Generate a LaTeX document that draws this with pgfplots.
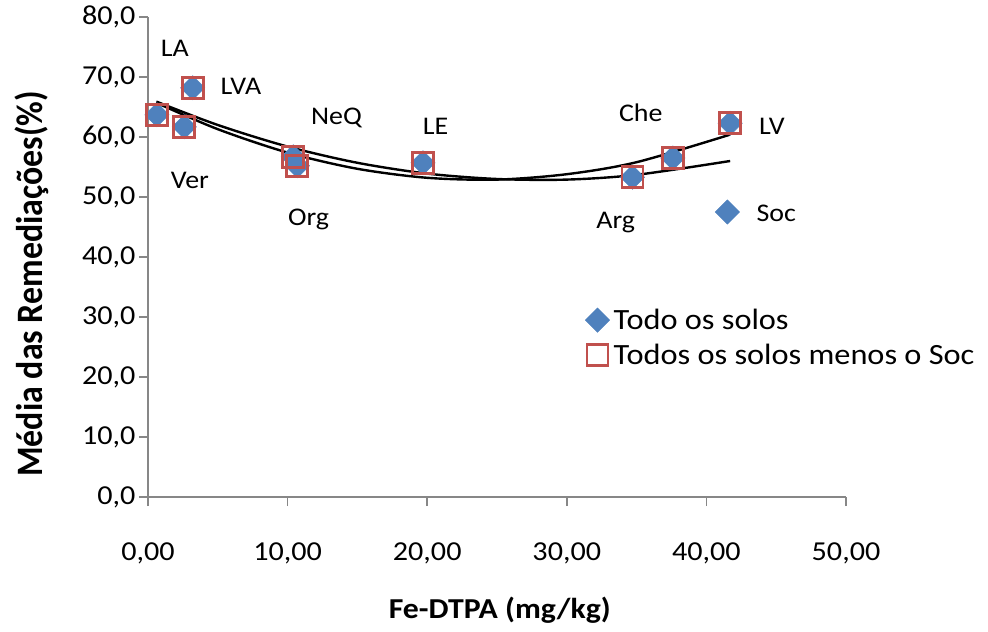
\documentclass[border=0pt]{standalone}
\usepackage{pgfplots}
\pgfplotsset{compat=1.18}
\usepackage{fontspec}
\setmainfont[FakeStretch=1.1]{Carlito}
\newfontfamily\fonteeixoy{Carlito}

\definecolor{serieA}{HTML}{4F81BD}
\definecolor{serieB}{HTML}{C0504D}
\definecolor{eixo}{HTML}{878787}

\newcommand\fticks{\fontsize{27.5}{33}\selectfont}
\newcommand\frotulox{\fontsize{29}{35}\selectfont\bfseries}
\newcommand\frotuloy{\fonteeixoy\fontsize{34}{40}\selectfont\bfseries}
\newcommand\fdados{\fontsize{25.5}{31}\selectfont}
\newcommand\flegenda{\fontsize{29.5}{36}\selectfont}

\begin{document}
\begin{tikzpicture}
\useasboundingbox (0,0) rectangle (988bp,632bp);
\begin{axis}[
  at={(148bp,135bp)}, anchor=south west,
  scale only axis, width=698bp, height=480bp,
  xmin=0, xmax=50, ymin=0, ymax=80,
  xtick={0,10,...,50}, ytick={0,10,...,80},
  axis x line=bottom, axis y line=left,
  axis line style={-, draw=eixo, line width=1.6bp},
  tick align=outside, major tick length=9bp,
  tick style={draw=eixo, line width=1.6bp},
  minor tick num=0,
  clip=false,
  /pgf/number format/assume math mode=true,
  xticklabel style={font=\fticks, yshift=-33bp,
    /pgf/number format/.cd, fixed, fixed zerofill, precision=2, use comma},
  yticklabel style={font=\fticks,
    /pgf/number format/.cd, fixed, fixed zerofill, precision=1, use comma},
  scaled ticks=false,
  xlabel={Fe-DTPA (mg/kg)},
  ylabel={Média das Remediações(\%)},
  xlabel style={font=\frotulox, at={(axis description cs:0.504,-0.235)}, anchor=center},
  ylabel style={font=\frotuloy, at={(axis description cs:-0.166,0.444)}, anchor=center, yscale=1.1},
  legend style={draw=none, fill=none, font=\flegenda,
    at={(axis description cs:0.622,0.40)}, anchor=north west,
    row sep=9bp,
    nodes={inner xsep=4bp},
    /tikz/every even column/.append style={column sep=14bp}},
  legend cell align=left,
]
% Todos os solos (com o Soc)
\addplot[only marks, mark=square*, mark size=8.6bp,
  mark options={rotate=45, fill=serieA, draw=serieA}]
  coordinates {
    (0.64,63.7) (2.6,61.7) (3.2,68.2) (10.4,56.7) (10.7,55.2)
    (19.7,55.7) (34.7,53.3) (37.6,56.5) (41.7,62.3) (41.5,47.5)
  };
\addlegendentry{Todo os solos}
% Todos os solos menos o Soc
\addplot[only marks, mark=square, mark size=10.5bp,
  mark options={draw=serieB, line width=2.8bp, fill=none}]
  coordinates {
    (0.64,63.7) (2.6,61.7) (3.2,68.2) (10.4,56.7) (10.7,55.2)
    (19.7,55.7) (34.7,53.3) (37.6,56.5) (41.7,62.3)
  };
\addlegendentry{Todos os solos menos o Soc}
% Linhas de tendência polinomiais (ordem 2)
\addplot[forget plot, black, line width=2.4bp, smooth, no marks]
  coordinates {
    (0.6,65.9) (5,62.0) (10,58.4) (15,55.7) (20,53.9)
    (25,53.0) (30,52.9) (35,53.7) (41.7,56.0)
  };
\addplot[forget plot, black, line width=2.4bp, smooth, no marks]
  coordinates {
    (0.6,65.7) (5,61.3) (10,57.4) (15,54.7) (20,53.2)
    (25,52.9) (30,53.8) (35,55.8) (41.7,60.4)
  };
% Rótulos dos solos
\begin{scope}[every node/.style={font=\fdados, inner sep=0pt}]
\node at (axis cs:1.93,74.8) {LA};
\node at (axis cs:6.66,68.5) {LVA};
\node at (axis cs:3.0,52.8) {Ver};
\node at (axis cs:13.5,63.2) {NeQ};
\node at (axis cs:11.5,46.2) {Org};
\node at (axis cs:20.6,61.7) {LE};
\node at (axis cs:35.3,64.0) {Che};
\node at (axis cs:33.5,45.8) {Arg};
\node at (axis cs:44.7,61.7) {LV};
\node at (axis cs:45.0,47.2) {Soc};
\end{scope}
\end{axis}
\end{tikzpicture}
\end{document}
